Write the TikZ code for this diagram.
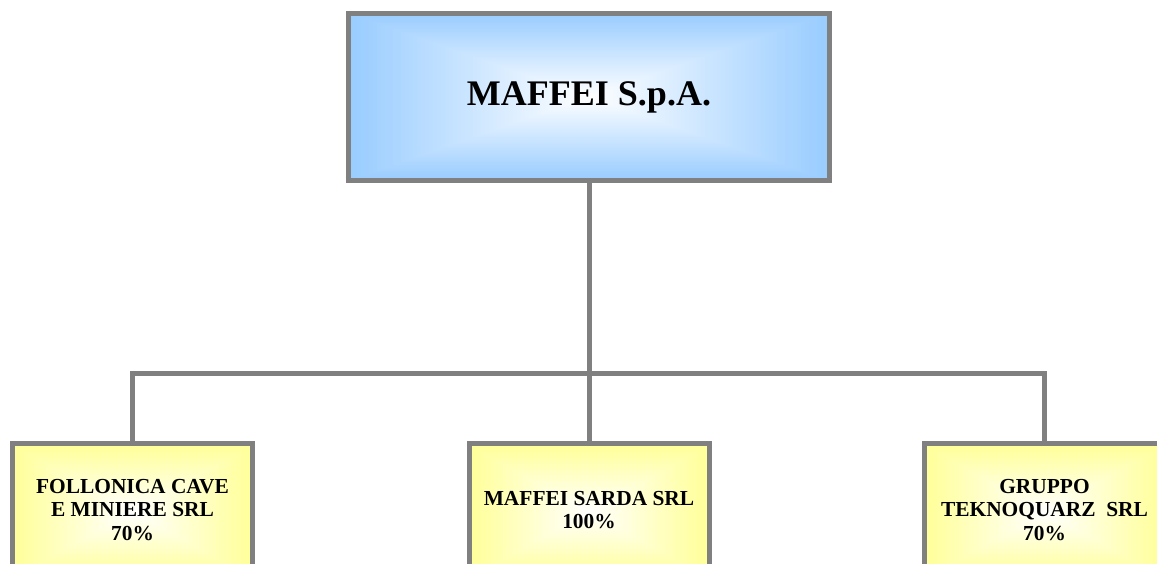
\documentclass[tikz,border=0pt]{standalone}
\usepackage{fontspec}
\setmainfont{Liberation Serif}
\definecolor{edgegray}{RGB}{128,128,128}
\definecolor{glowblue}{RGB}{153,204,255}
\definecolor{glowyellow}{RGB}{255,255,153}
% nested-rectangle glow: centre x, centre y, width, height, colour
\newcommand{\glowrect}[5]{%
  \foreach \i [evaluate=\i as \f using {1-\i/60}, evaluate=\i as \p using {100-100*\i/60}] in {0,...,59}{%
    \fill[#5!\p!white] ({#1-\f*#3/2},{#2-\f*#4/2}) rectangle ({#1+\f*#3/2},{#2+\f*#4/2});
  }%
}
\tikzset{
  topbox/.style={draw=edgegray, line width=5pt, minimum width=481pt, minimum height=167pt, inner sep=0pt, font=\fontsize{36}{40}\selectfont\bfseries},
  childbox/.style={draw=edgegray, line width=5pt, minimum width=240pt, minimum height=133pt, inner sep=0pt, align=center, font=\fontsize{21.4}{23.7}\selectfont\bfseries},
  conn/.style={draw=edgegray, line width=5pt}
}
\begin{document}
\begin{tikzpicture}[x=1pt,y=-1pt]
\useasboundingbox (0,0) rectangle (1157,563);
\clip (0,0) rectangle (1157,563);
\glowrect{589}{97}{481}{167}{glowblue}
\glowrect{132.5}{512}{240}{133}{glowyellow}
\glowrect{589}{512}{240}{133}{glowyellow}
\glowrect{1044.5}{512}{240}{133}{glowyellow}
\node[topbox] (top) at (589,97) {\raisebox{5pt}{MAFFEI S.p.A.}};
\node[childbox] (fol) at (132.5,510) {FOLLONICA CAVE\\E MINIERE SRL\\70\%};
\node[childbox] (sar) at (589,510) {MAFFEI SARDA SRL\\100\%};
\node[childbox] (tek) at (1044.5,510) {GRUPPO\\TEKNOQUARZ\ \ SRL\\70\%};
\coordinate (bus) at (589,373);
\draw[conn] (top.south) -- (sar.north);
\draw[conn] (fol.north) |- (bus) -| (tek.north);
\end{tikzpicture}
\end{document}
